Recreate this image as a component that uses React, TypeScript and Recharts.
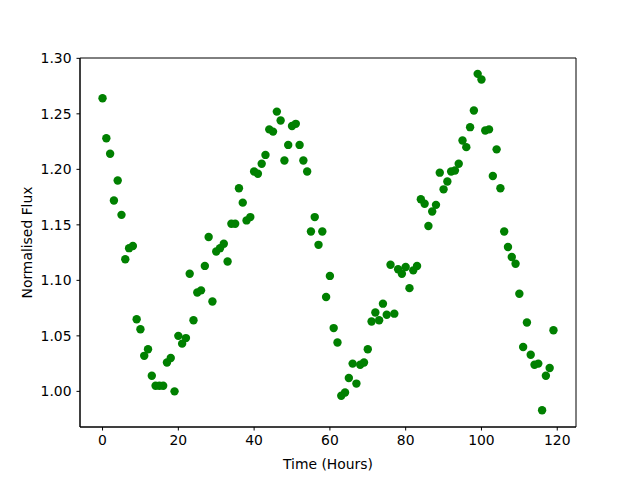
import React from "react";
import {
  ScatterChart,
  Scatter,
  XAxis,
  YAxis,
  Label,
  ReferenceArea,
} from "recharts";

document.body.style.margin = "0";

// hours since start of observation
const hours = Array.from({ length: 120 }, (_, i) => i);

// normalised flux
const flux = [
  1.264, 1.228, 1.214, 1.172, 1.19, 1.159, 1.119, 1.129, 1.131, 1.065,
  1.056, 1.032, 1.038, 1.014, 1.005, 1.005, 1.005, 1.026, 1.03, 1.0,
  1.05, 1.043, 1.048, 1.106, 1.064, 1.089, 1.091, 1.113, 1.139, 1.081,
  1.126, 1.129, 1.133, 1.117, 1.151, 1.151, 1.183, 1.17, 1.154, 1.157,
  1.198, 1.196, 1.205, 1.213, 1.236, 1.234, 1.252, 1.244, 1.208, 1.222,
  1.239, 1.241, 1.222, 1.208, 1.198, 1.144, 1.157, 1.132, 1.144, 1.085,
  1.104, 1.057, 1.044, 0.996, 0.999, 1.012, 1.025, 1.007, 1.024, 1.026,
  1.038, 1.063, 1.071, 1.064, 1.079, 1.069, 1.114, 1.07, 1.11, 1.106,
  1.112, 1.093, 1.109, 1.113, 1.173, 1.169, 1.149, 1.162, 1.168, 1.197,
  1.182, 1.189, 1.198, 1.199, 1.205, 1.226, 1.22, 1.238, 1.253, 1.286,
  1.281, 1.235, 1.236, 1.194, 1.218, 1.183, 1.144, 1.13, 1.121, 1.115,
  1.088, 1.04, 1.062, 1.033, 1.024, 1.025, 0.983, 1.014, 1.021, 1.055,
];

const xTicks = [0, 20, 40, 60, 80, 100, 120];
const yTicks = [1.0, 1.05, 1.1, 1.15, 1.2, 1.25, 1.3];
const xDomain = [-5.95, 124.95];
const yDomain = [0.9679, 1.3003];

const data = hours.map((h, i) => ({ time: h, flux: flux[i] }));

const tickStyle = { fill: "#000", fontSize: 13.9 };

export default function App() {
  return (
    <div style={{ width: 640, height: 480, background: "#fff" }}>
      <ScatterChart
        width={640}
        height={480}
        margin={{ top: 58, right: 64, left: 0, bottom: 0 }}
        style={{ fontFamily: "DejaVu Sans" }}
      >
        <XAxis
          type="number"
          dataKey="time"
          domain={xDomain}
          ticks={xTicks}
          allowDataOverflow
          height={53}
          tick={tickStyle}
          tickSize={3.5}
          tickMargin={5}
          stroke="#000"
          tickLine={{ stroke: "#000" }}
          axisLine={{ stroke: "#000" }}
        >
          <Label
            value="Time (Hours)"
            position="insideBottom"
            offset={11}
            style={{ fill: "#000", fontSize: 13.9 }}
          />
        </XAxis>
        <YAxis
          type="number"
          dataKey="flux"
          domain={yDomain}
          ticks={yTicks}
          allowDataOverflow
          width={80}
          tick={tickStyle}
          tickFormatter={(v: number) => v.toFixed(2)}
          tickSize={3.5}
          tickMargin={5}
          tickLine={{ stroke: "#000" }}
          axisLine={{ stroke: "#000" }}
        >
          <Label
            value="Normalised Flux"
            angle={-90}
            position="insideLeft"
            offset={27}
            style={{ fill: "#000", fontSize: 13.9, textAnchor: "middle" }}
          />
        </YAxis>
        <ReferenceArea
          x1={xDomain[0]}
          x2={xDomain[1]}
          y1={yDomain[0]}
          y2={yDomain[1]}
          fill="none"
          fillOpacity={0}
          stroke="#000"
          strokeWidth={1}
          ifOverflow="visible"
        />
        <Scatter
          data={data}
          fill="#008000"
          isAnimationActive={false}
          shape={(p: any) => (
            <circle cx={p.cx} cy={p.cy} r={4.2} fill="#008000" />
          )}
        />
      </ScatterChart>
    </div>
  );
}
